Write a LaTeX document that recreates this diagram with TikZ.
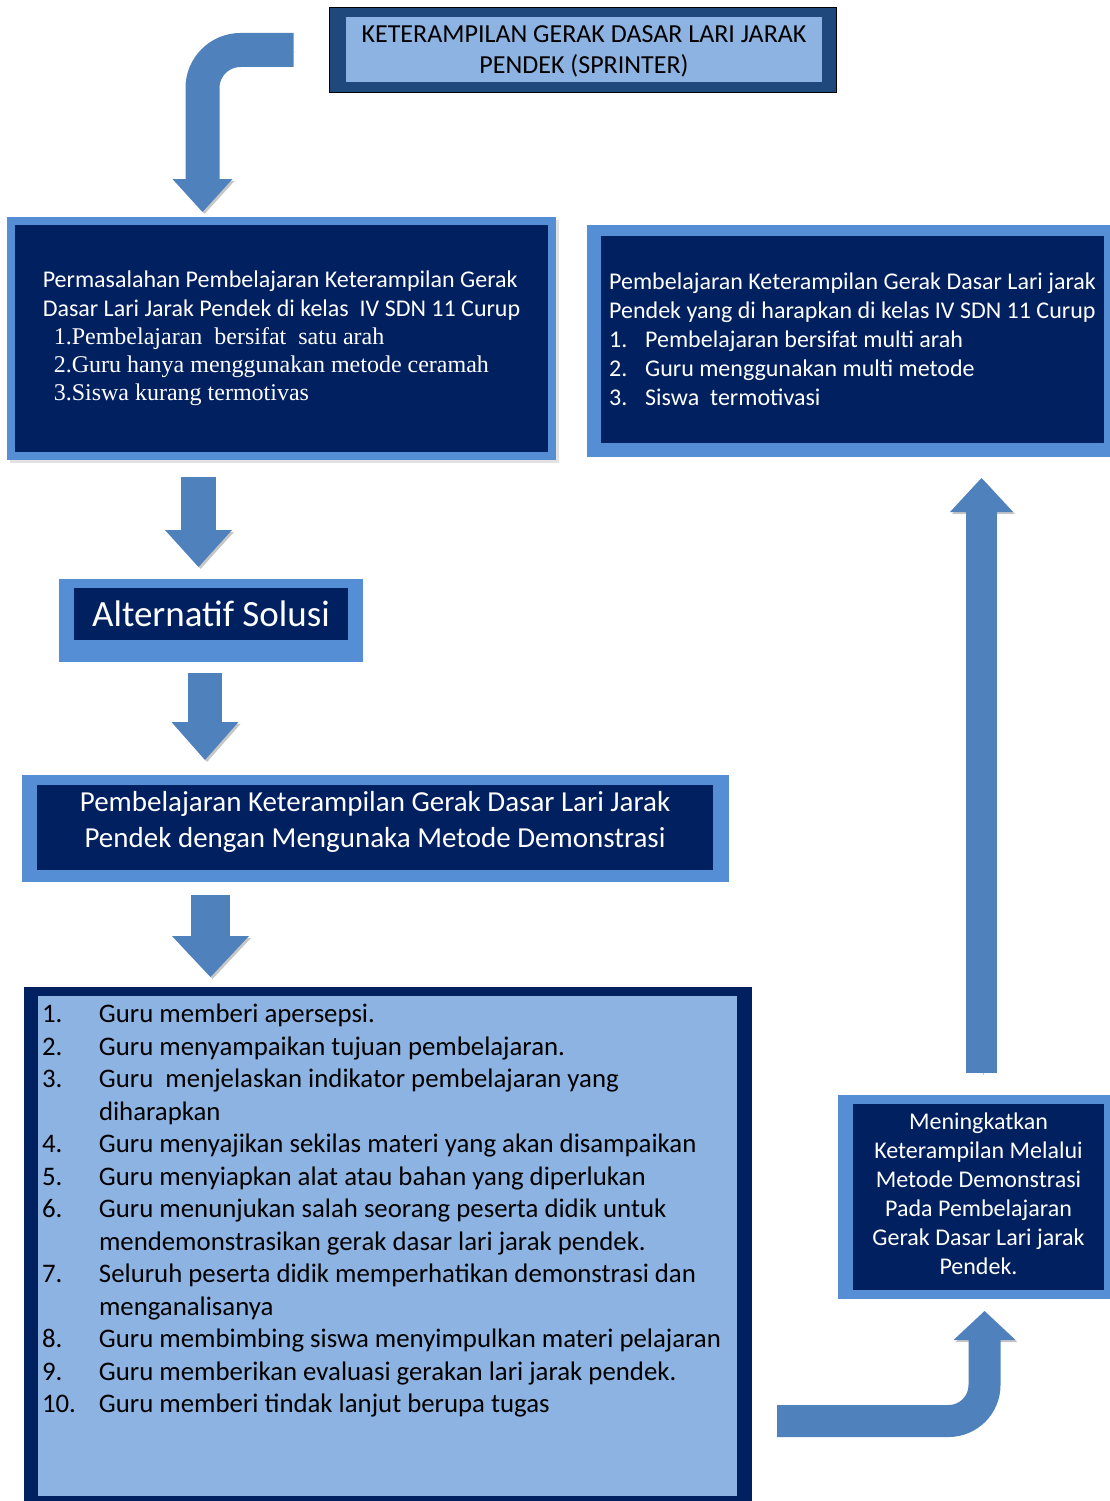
\documentclass[tikz,border=0pt]{standalone}
\usepackage{fontspec}
\setmainfont{Carlito}
\newfontfamily\timesfont{Liberation Serif}
\usetikzlibrary{arrows.meta,calc,shadows}
\definecolor{SprintNavy}{HTML}{002060}
\definecolor{SprintFrame}{HTML}{558ED5}
\definecolor{SprintPale}{HTML}{8DB3E2}
\definecolor{SprintArrow}{HTML}{4F81BD}
\definecolor{SprintDeep}{HTML}{1F497D}
\newcommand{\stepnum}[2]{\makebox[#1][l]{#2}}

\begin{document}
\begin{tikzpicture}[
  x=1pt,y=-1pt,
  every node/.style={inner sep=0pt,outer sep=0pt},
  frame/.style={rectangle,fill=SprintFrame},
  dark/.style={rectangle,fill=SprintNavy,text=white,align=left},
  pale/.style={rectangle,fill=SprintPale,text=black,align=left},
  blockarrow/.style args={#1/#2/#3}{line width=#1,draw=SprintArrow,
    -{Triangle[length=#3,width=#2,line width=0pt]},
    preaction={draw=gray!45,transform canvas={shift={(2,2)}}}}
]
\useasboundingbox (0,0) rectangle (1109,1501);

\node[frame,fill=SprintDeep,draw=black,line width=1pt,
  minimum width=507pt,minimum height=85pt] (topFrame) at (583,50) {};
\node[pale,align=center,minimum width=476pt,minimum height=65pt,
  text depth=0pt,font=\fontsize{26}{31.5}\selectfont] (top) at (584,49.5)
  {KETERAMPILAN GERAK DASAR LARI JARAK\\PENDEK (SPRINTER)};

\node[frame,minimum width=549pt,minimum height=243pt,
  drop shadow={shadow xshift=3pt,shadow yshift=-3pt,fill=gray!45}]
  (probFrame) at (281.5,338.5) {};
\node[dark,minimum width=533pt,minimum height=227pt,
  font=\fontsize{24}{29}\selectfont] (prob) at (281.5,338.5)
  {Permasalahan Pembelajaran Keterampilan Gerak\\
   Dasar Lari Jarak Pendek di kelas\ \ IV SDN 11 Curup\\[-1pt]
   {\timesfont\hspace*{11pt}1.Pembelajaran\ \ bersifat\ \ satu arah}\\[-1pt]
   {\timesfont\hspace*{11pt}2.Guru hanya menggunakan metode ceramah}\\[-1pt]
   {\timesfont\hspace*{11pt}3.Siswa kurang termotivas}};

\node[frame,minimum width=528pt,minimum height=232pt] (hopeFrame)
  at (851,341) {};
\node[dark,minimum width=503pt,minimum height=207pt,
  font=\fontsize{24}{29}\selectfont] (hope) at (852.5,339.5)
  {Pembelajaran Keterampilan Gerak Dasar Lari jarak\\
   Pendek yang di harapkan di kelas IV SDN 11 Curup\\
   \stepnum{36pt}{1.}Pembelajaran bersifat multi arah\\
   \stepnum{36pt}{2.}Guru menggunakan multi metode\\
   \stepnum{36pt}{3.}Siswa\ \ termotivasi};

\node[frame,minimum width=304pt,minimum height=83pt] (altFrame)
  at (211,620.5) {};
\node[dark,align=center,minimum width=274pt,minimum height=52pt,
  font=\fontsize{37}{44}\selectfont] (alt) at (211,614) {Alternatif Solusi};

\node[frame,minimum width=707pt,minimum height=107pt] (demoFrame)
  at (375.5,828.5) {};
\node[dark,align=center,minimum width=676pt,minimum height=85pt,
  text depth=16pt,font=\fontsize{29}{36}\selectfont] (demo) at (375,827.5)
  {Pembelajaran Keterampilan Gerak Dasar Lari Jarak\\
   Pendek dengan Mengunaka Metode Demonstrasi};

\node[frame,fill=SprintNavy,minimum width=728pt,minimum height=520pt]
  (stepsFrame) at (388,1247) {};
\node[pale,inner sep=4pt] (steps) at (387.5,1246)
  {\parbox[c][492pt][t]{691pt}{\fontsize{26.8}{32.5}\selectfont\raggedright
   \vspace*{4pt}
   \stepnum{57pt}{1.}Guru memberi apersepsi.\\
   \stepnum{57pt}{2.}Guru menyampaikan tujuan pembelajaran.\\
   \stepnum{57pt}{3.}Guru\ \ menjelaskan indikator pembelajaran yang\\
   \stepnum{57pt}{}diharapkan\\
   \stepnum{57pt}{4.}Guru menyajikan sekilas materi yang akan disampaikan\\
   \stepnum{57pt}{5.}Guru menyiapkan alat atau bahan yang diperlukan\\
   \stepnum{57pt}{6.}Guru menunjukan salah seorang peserta didik untuk\\
   \stepnum{57pt}{}mendemonstrasikan gerak dasar lari jarak pendek.\\
   \stepnum{57pt}{7.}Seluruh peserta didik memperhatikan demonstrasi dan\\
   \stepnum{57pt}{}menganalisanya\\
   \stepnum{57pt}{8.}Guru membimbing siswa menyimpulkan materi pelajaran\\
   \stepnum{57pt}{9.}Guru memberikan evaluasi gerakan lari jarak pendek.\\
   \stepnum{57pt}{10.}Guru memberi tindak lanjut berupa tugas}};

\node[frame,minimum width=277pt,minimum height=204pt] (goalFrame)
  at (976.5,1197) {};
\node[dark,align=center,minimum width=251pt,minimum height=186pt,
  text depth=6pt,font=\fontsize{24}{29}\selectfont] (goal) at (978.5,1197)
  {Meningkatkan\\Keterampilan Melalui\\Metode Demonstrasi\\
   Pada Pembelajaran\\Gerak Dasar Lari jarak\\Pendek.};

\draw[blockarrow={34pt/60pt/33pt},rounded corners=38pt]
  ([xshift=-36pt]topFrame.west) -| ($(probFrame.north)+(-79,-5)$);
\draw[blockarrow={35pt/67pt/37pt}]
  ($(probFrame.south)+(-83,17)$) -- ($(altFrame.north)+(-12.5,-12)$);
\draw[blockarrow={34pt/67pt/38pt}]
  ($(altFrame.south)+(-6,11)$) -- ($(demoFrame.north)+(-170.5,-15)$);
\draw[blockarrow={39pt/77pt/41pt}]
  ($(demoFrame.south)+(-165,13)$) -- ($(stepsFrame.north)+(-177.5,-10)$);
\draw[blockarrow={32pt/62pt/29pt},rounded corners=36pt]
  ($(stepsFrame.south east)+(25,-86)$) -| ($(goalFrame.south)+(8,12)$);
\draw[blockarrow={31pt/63pt/34pt}]
  ($(goalFrame.north)+(5,-22)$) -- ($(hopeFrame.south)+(130.5,21)$);
\end{tikzpicture}
\end{document}
